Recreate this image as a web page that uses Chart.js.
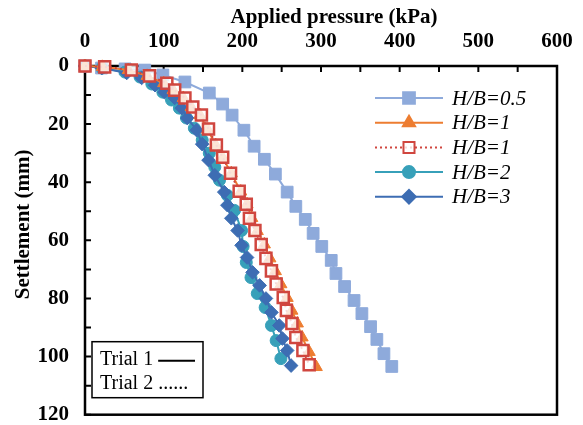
<!DOCTYPE html>
<html>
<head>
<meta charset="utf-8">
<script src="https://cdn.jsdelivr.net/npm/chart.js@4.4.0/dist/chart.umd.min.js"></script>
<style>
  html, body { margin: 0; padding: 0; background: #fff; }
  #wrap { width: 583px; height: 425px; }
</style>
</head>
<body>
<div id="wrap"><canvas id="settlementChart" width="583" height="425"></canvas></div>
<script>
// H/B = 0.5
const hb05Pressure   = [0, 21, 51, 76, 99, 127, 158, 175, 187, 202, 215, 228, 242, 257, 268, 280, 290, 301, 313, 319, 330, 342, 352, 363, 371, 380, 390];
const hb05Settlement = [0, 0.7, 1.0, 1.4, 3.1, 5.5, 9.3, 13.1, 16.9, 22.1, 27.6, 32.1, 37.2, 43.4, 48.3, 52.8, 57.6, 62.1, 66.9, 71.4, 75.9, 80.7, 85.2, 89.7, 94.1, 99.0, 103.4];

// H/B = 1, trial 1
const hb1aPressure   = [0, 22, 55, 79, 100, 112, 125, 135, 146, 156, 166, 175, 186, 198, 206, 212, 219, 228, 235, 242, 249, 257, 263, 270, 276, 285, 294];
const hb1aSettlement = [0, 0.3, 1.4, 3.4, 5.9, 8.3, 11, 14.1, 16.9, 21.9, 27.2, 31.6, 36.9, 43.2, 47.6, 52.3, 56.8, 61.4, 66.2, 70.6, 75.1, 79.8, 84.2, 88.6, 93.4, 98.4, 103.6];

// H/B = 1, trial 2
const hb1bPressure   = [0, 25, 59, 82, 104, 114, 127, 137, 148, 157, 167, 175, 185, 196, 205, 209, 216, 224, 230, 237, 243, 252, 256, 263, 268, 277, 285];
const hb1bSettlement = [0, 0.3, 1.4, 3.4, 5.9, 8.3, 11, 14.1, 16.9, 21.7, 27.2, 31.4, 36.9, 43.1, 47.6, 52.4, 56.6, 61.4, 66.2, 70.5, 75, 79.7, 84.1, 88.6, 93.4, 97.9, 102.8];

// H/B = 2
const hb2Pressure   = [0, 21.5, 51, 70, 85, 99, 110, 120, 129, 139, 149, 158, 165, 171, 181, 190, 199, 201, 205, 211, 219, 229, 237, 243, 249];
const hb2Settlement = [0, 0.7, 2.1, 3.8, 6.2, 9, 11.7, 14.5, 17.9, 21.4, 25.5, 30, 34.8, 39.3, 44.5, 49.7, 56.6, 62.1, 67.6, 72.8, 78.3, 83.1, 89.3, 94.5, 100.7];

// H/B = 3
const hb3Pressure   = [0, 21.5, 53, 72, 89, 101, 114, 123, 130, 142, 149, 157, 165, 177, 181, 186, 194, 199, 206, 213, 222, 230, 237, 247, 251, 257, 262];
const hb3Settlement = [0, 0.7, 2.4, 4.1, 6.6, 9, 11, 14.5, 17.9, 22.1, 26.9, 32.4, 37.6, 43.4, 47.9, 52.4, 56.6, 61.7, 65.9, 71, 75.5, 80, 84.8, 89.3, 93.8, 97.9, 103.1];

const seriesLabels = ["H/B=0.5", "H/B=1", "H/B=1", "H/B=2", "H/B=3"];
const trialLabels = ["Trial 1", "Trial 2"];
const xTitle = "Applied pressure (kPa)";
const yTitle = "Settlement (mm)";

const serif = "'Liberation Serif', 'Times New Roman', serif";

function toPoints(xs, ys) {
  return xs.map((v, i) => ({ x: v, y: ys[i] }));
}

// frame, inward tick marks and axis titles
const framePlugin = {
  id: 'frame',
  beforeDatasetsDraw(chart) {
    const { ctx, chartArea: a, scales: { x, y } } = chart;
    ctx.save();
    ctx.strokeStyle = '#000';
    ctx.lineWidth = 2.5;
    ctx.strokeRect(a.left, a.top, a.right - a.left, a.bottom - a.top);
    ctx.lineWidth = 2;
    ctx.beginPath();
    x.ticks.forEach(t => {
      const px = x.getPixelForValue(t.value);
      ctx.moveTo(px, a.top);
      ctx.lineTo(px, a.top + 6);
    });
    y.ticks.forEach(t => {
      const py = y.getPixelForValue(t.value);
      ctx.moveTo(a.left, py);
      ctx.lineTo(a.left + 6, py);
    });
    ctx.stroke();

    ctx.fillStyle = '#000';
    ctx.font = 'bold 21px ' + serif;
    ctx.textAlign = 'center';
    ctx.textBaseline = 'middle';
    ctx.fillText(xTitle, (a.left + a.right) / 2 + 13, 18);
    ctx.translate(24, (a.top + a.bottom) / 2 - 16);
    ctx.rotate(-Math.PI / 2);
    ctx.fillText(yTitle, 0, 0);
    ctx.restore();
  }
};

// legend drawn inside the plot, plus the trial key box
const legendPlugin = {
  id: 'insideLegend',
  afterDatasetsDraw(chart) {
    const { ctx, chartArea: a } = chart;
    ctx.save();
    const x0 = a.right - 182, x1 = a.right - 114, xm = (x0 + x1) / 2;
    chart.data.datasets.forEach((ds, i) => {
      const yy = a.top + 32 + i * 24.7;
      ctx.strokeStyle = ds.borderColor;
      ctx.lineWidth = ds.borderWidth;
      ctx.setLineDash(ds.borderDash || []);
      ctx.beginPath();
      ctx.moveTo(x0, yy);
      ctx.lineTo(x1, yy);
      ctx.stroke();
      ctx.setLineDash([]);
      ctx.fillStyle = ds.pointBackgroundColor;
      ctx.strokeStyle = ds.pointBorderColor;
      Chart.helpers.drawPoint(ctx, {
        pointStyle: ds.pointStyle,
        radius: ds.pointRadius,
        borderWidth: ds.pointBorderWidth,
        rotation: 0
      }, xm, yy);
      ctx.fillStyle = '#000';
      ctx.font = 'italic 21px ' + serif;
      ctx.textBaseline = 'middle';
      ctx.textAlign = 'left';
      ctx.fillText(ds.label, x1 + 9, yy + 1);
    });

    // trial key
    const bx = a.left + 7, by = a.bottom - 73, bw = 111, bh = 56;
    ctx.fillStyle = '#fff';
    ctx.fillRect(bx, by, bw, bh);
    ctx.strokeStyle = '#000';
    ctx.lineWidth = 1.5;
    ctx.strokeRect(bx, by, bw, bh);
    ctx.fillStyle = '#000';
    ctx.font = '20px ' + serif;
    ctx.textBaseline = 'middle';
    ctx.textAlign = 'left';
    ctx.fillText(trialLabels[0], bx + 8, by + 18);
    ctx.fillText(trialLabels[1], bx + 8, by + 42);
    const w1 = ctx.measureText(trialLabels[0]).width;
    ctx.lineWidth = 2;
    ctx.beginPath();
    ctx.moveTo(bx + 13 + w1, by + 19);
    ctx.lineTo(bx + 103, by + 19);
    ctx.stroke();
    const w2 = ctx.measureText(trialLabels[1]).width;
    ctx.fillText('......', bx + 13 + w2, by + 42);
    ctx.restore();
  }
};

function seriesStyle(color, style, radius, extra) {
  return Object.assign({
    borderColor: color,
    backgroundColor: color,
    pointBackgroundColor: color,
    pointBorderColor: color,
    pointStyle: style,
    pointRadius: radius,
    pointHoverRadius: radius,
    pointBorderWidth: 1,
    borderWidth: 2,
    showLine: true,
    tension: 0,
    clip: false
  }, extra || {});
}

new Chart(document.getElementById("settlementChart"), {
  type: "scatter",
  data: {
    datasets: [
      Object.assign({ label: seriesLabels[0], data: toPoints(hb05Pressure, hb05Settlement), order: 4 },
        seriesStyle("#8eaadb", "rect", 8.3)),
      Object.assign({ label: seriesLabels[1], data: toPoints(hb1aPressure, hb1aSettlement), order: 1 },
        seriesStyle("#ed7d31", "triangle", 7)),
      Object.assign({ label: seriesLabels[2], data: toPoints(hb1bPressure, hb1bSettlement), order: 0 },
        seriesStyle("#d0463f", "rect", 7.8, {
          pointBackgroundColor: "rgba(255,255,255,0.8)",
          pointBorderWidth: 2.5,
          borderDash: [2, 3]
        })),
      Object.assign({ label: seriesLabels[3], data: toPoints(hb2Pressure, hb2Settlement), order: 3 },
        seriesStyle("#37a0b9", "circle", 6)),
      Object.assign({ label: seriesLabels[4], data: toPoints(hb3Pressure, hb3Settlement), order: 2 },
        seriesStyle("#3d6db3", "rectRot", 6.8))
    ]
  },
  options: {
    responsive: false,
    animation: false,
    layout: { padding: { left: 0, top: 0, right: 26, bottom: 10 } },
    plugins: {
      legend: { display: false },
      tooltip: { enabled: false }
    },
    scales: {
      x: {
        type: "linear",
        position: "top",
        min: 0,
        max: 600,
        afterFit: s => { s.height = 66; s.paddingLeft = 0; s.paddingRight = 0; },
        ticks: {
          stepSize: 50,
          padding: 12,
          color: "#000",
          font: { family: serif, size: 21, weight: "bold" },
          callback: v => (v % 100 === 0 ? v : "")
        },
        grid: { display: false, drawTicks: false },
        border: { display: false },
        title: { display: false }
      },
      y: {
        type: "linear",
        reverse: true,
        min: 0,
        max: 120,
        afterFit: s => { s.width = 85; s.paddingTop = 0; s.paddingBottom = 0; },
        ticks: {
          stepSize: 10,
          padding: 16,
          color: "#000",
          font: { family: serif, size: 21, weight: "bold" },
          callback: v => (v % 20 === 0 ? v : "")
        },
        grid: { display: false, drawTicks: false },
        border: { display: false },
        title: { display: false }
      }
    }
  },
  plugins: [framePlugin, legendPlugin]
});
</script>
</body>
</html>
